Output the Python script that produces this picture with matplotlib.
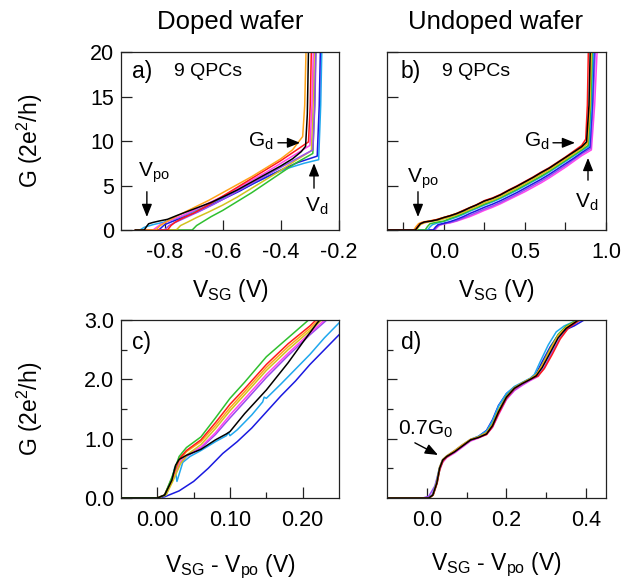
import numpy as np
import matplotlib
matplotlib.use("Agg")
import matplotlib.pyplot as plt
from matplotlib.ticker import MultipleLocator, FixedLocator

plt.rcParams['font.family'] = ['Liberation Sans', 'DejaVu Sans']
plt.rcParams['mathtext.fontset'] = 'custom'
plt.rcParams['mathtext.rm'] = 'Liberation Sans'

colors = {'black': 'black', 'red': '#ff1a1a', 'orange': '#ffa31a', 'yellow': '#d2c21e',
          'green': '#2fc02f', 'cyan': '#1fa8ee', 'blue': '#1a1ae0', 'purple': '#9a4cf0',
          'magenta': '#ff44ee'}

# panel a: doped wafer, G vs V_SG (9 QPCs)
a_black = [(-0.90,0),(-0.87,0),(-0.862,0.4),(-0.855,0.7),(-0.84,0.85),(-0.82,1.0),(-0.79,1.2),(-0.76,1.6),(-0.72,2.1),(-0.68,2.6),(-0.64,3.1),(-0.60,3.7),(-0.55,4.5),(-0.50,5.4),(-0.45,6.3),(-0.40,7.2),(-0.36,8.0),(-0.33,8.8),(-0.315,9.4),(-0.309,13.0),(-0.304,22)]
a_red = [(-0.90,0),(-0.79,0),(-0.778,0.5),(-0.765,0.85),(-0.74,1.3),(-0.70,1.9),(-0.65,2.8),(-0.60,3.8),(-0.55,4.8),(-0.50,5.8),(-0.45,6.8),(-0.40,7.8),(-0.35,8.9),(-0.305,9.9),(-0.299,14.0),(-0.294,22)]
a_orange = [(-0.90,0),(-0.83,0),(-0.815,0.5),(-0.79,1.0),(-0.75,1.7),(-0.70,2.5),(-0.65,3.3),(-0.60,4.2),(-0.55,5.1),(-0.50,6.0),(-0.45,7.0),(-0.40,8.0),(-0.36,9.0),(-0.325,10.5),(-0.318,14.0),(-0.312,22)]
a_yellow = [(-0.90,0),(-0.76,0),(-0.745,0.5),(-0.72,0.9),(-0.69,1.4),(-0.65,2.0),(-0.60,2.8),(-0.55,3.7),(-0.50,4.7),(-0.45,5.7),(-0.40,6.7),(-0.35,7.8),(-0.295,8.9),(-0.289,14.0),(-0.284,22)]
a_green = [(-0.90,0),(-0.705,0),(-0.69,0.5),(-0.67,0.9),(-0.64,1.5),(-0.60,2.2),(-0.55,3.2),(-0.50,4.2),(-0.45,5.3),(-0.40,6.4),(-0.35,7.5),(-0.29,8.6),(-0.284,14.0),(-0.279,22)]
a_cyan = [(-0.90,0),(-0.885,0),(-0.87,0.3),(-0.84,0.6),(-0.80,0.9),(-0.76,1.3),(-0.72,1.8),(-0.67,2.5),(-0.62,3.3),(-0.57,4.1),(-0.52,4.8),(-0.47,5.6),(-0.42,6.4),(-0.37,7.0),(-0.32,7.5),(-0.27,7.9),(-0.263,14.0),(-0.258,22)]
a_blue = [(-0.90,0),(-0.82,0),(-0.80,0.6),(-0.77,1.0),(-0.73,1.5),(-0.69,2.0),(-0.64,2.8),(-0.59,3.6),(-0.54,4.4),(-0.49,5.3),(-0.44,6.1),(-0.39,6.9),(-0.34,7.6),(-0.275,8.3),(-0.268,14.0),(-0.263,22)]
a_purple = [(-0.90,0),(-0.80,0),(-0.785,0.5),(-0.76,0.9),(-0.72,1.5),(-0.68,2.1),(-0.63,2.9),(-0.58,3.8),(-0.53,4.7),(-0.48,5.6),(-0.43,6.5),(-0.38,7.4),(-0.33,8.3),(-0.29,9.0),(-0.283,14.0),(-0.278,22)]
a_magenta = [(-0.90,0),(-0.84,0),(-0.815,0.6),(-0.78,1.1),(-0.74,1.6),(-0.70,2.2),(-0.65,3.0),(-0.60,3.8),(-0.55,4.7),(-0.50,5.6),(-0.45,6.5),(-0.40,7.5),(-0.35,8.5),(-0.30,9.5),(-0.293,14.0),(-0.287,22)]

# panel b: undoped wafer
b_black = [(-0.35,0),(-0.175,0),(-0.16,0.35),(-0.145,0.7),(-0.12,0.9),(-0.08,1.0),(-0.04,1.15),(0.0,1.4),(0.04,1.6),(0.08,1.85),(0.12,2.15),(0.16,2.5),(0.20,2.8),(0.25,3.25),(0.30,3.55),(0.35,3.95),(0.40,4.45),(0.45,4.9),(0.50,5.4),(0.55,5.9),(0.60,6.45),(0.65,6.95),(0.70,7.55),(0.75,8.15),(0.80,8.75),(0.85,9.35),(0.88,9.9),(0.895,14.0),(0.905,22)]
b_red = [(-0.35,0),(-0.175,0),(-0.16,0.4),(-0.145,0.7),(-0.12,0.88),(-0.08,1.02),(-0.04,1.18),(0.0,1.4),(0.04,1.62),(0.08,1.85),(0.12,2.2),(0.16,2.5),(0.20,2.82),(0.25,3.3),(0.30,3.6),(0.35,4.0),(0.40,4.5),(0.45,4.95),(0.50,5.45),(0.55,5.95),(0.60,6.5),(0.65,7.0),(0.70,7.6),(0.75,8.2),(0.80,8.85),(0.85,9.5),(0.875,10.2),(0.885,14.0),(0.893,22)]
b_orange = [(-0.35,0),(-0.185,0),(-0.17,0.4),(-0.155,0.72),(-0.13,0.9),(-0.09,1.02),(-0.05,1.15),(0.0,1.42),(0.04,1.62),(0.08,1.88),(0.12,2.18),(0.16,2.52),(0.20,2.82),(0.25,3.25),(0.30,3.55),(0.35,3.95),(0.40,4.42),(0.45,4.88),(0.50,5.38),(0.55,5.85),(0.60,6.4),(0.65,6.9),(0.70,7.5),(0.75,8.1),(0.80,8.7),(0.85,9.3),(0.885,9.8),(0.9,14.0),(0.91,22)]
b_yellow = [(-0.35,0),(-0.17,0),(-0.155,0.35),(-0.14,0.65),(-0.11,0.85),(-0.07,0.98),(-0.03,1.1),(0.0,1.25),(0.04,1.45),(0.08,1.7),(0.12,2.0),(0.16,2.3),(0.20,2.6),(0.25,3.05),(0.30,3.35),(0.35,3.75),(0.40,4.25),(0.45,4.7),(0.50,5.2),(0.55,5.7),(0.60,6.25),(0.65,6.75),(0.70,7.35),(0.75,7.95),(0.80,8.55),(0.85,9.15),(0.885,9.7),(0.9,14.0),(0.912,22)]
b_green = [(-0.35,0),(-0.115,0),(-0.10,0.4),(-0.085,0.7),(-0.05,0.85),(0.0,1.0),(0.04,1.3),(0.08,1.55),(0.12,1.85),(0.16,2.2),(0.20,2.5),(0.25,2.9),(0.30,3.25),(0.35,3.65),(0.40,4.1),(0.45,4.55),(0.50,5.05),(0.55,5.55),(0.60,6.05),(0.65,6.6),(0.70,7.2),(0.75,7.8),(0.80,8.4),(0.85,9.0),(0.89,9.5),(0.905,14.0),(0.918,22)]
b_cyan = [(-0.35,0),(-0.10,0),(-0.085,0.35),(-0.07,0.6),(-0.04,0.78),(0.0,0.95),(0.04,1.2),(0.08,1.45),(0.12,1.75),(0.16,2.1),(0.20,2.4),(0.25,2.8),(0.30,3.15),(0.35,3.55),(0.40,4.0),(0.45,4.45),(0.50,4.95),(0.55,5.45),(0.60,5.95),(0.65,6.5),(0.70,7.1),(0.75,7.7),(0.80,8.3),(0.85,8.9),(0.895,9.4),(0.91,14.0),(0.925,22)]
b_blue = [(-0.35,0),(-0.065,0),(-0.05,0.35),(-0.035,0.6),(0.0,0.75),(0.04,0.95),(0.08,1.2),(0.12,1.5),(0.16,1.85),(0.20,2.15),(0.25,2.55),(0.30,2.9),(0.35,3.3),(0.40,3.75),(0.45,4.2),(0.50,4.7),(0.55,5.2),(0.60,5.7),(0.65,6.25),(0.70,6.85),(0.75,7.45),(0.80,8.05),(0.85,8.7),(0.90,9.3),(0.915,14.0),(0.93,22)]
b_purple = [(-0.35,0),(-0.06,0),(-0.045,0.3),(-0.03,0.55),(0.0,0.7),(0.04,0.85),(0.08,1.05),(0.12,1.35),(0.16,1.65),(0.20,1.95),(0.25,2.35),(0.30,2.7),(0.35,3.1),(0.40,3.55),(0.45,4.0),(0.50,4.5),(0.55,5.0),(0.60,5.5),(0.65,6.05),(0.70,6.65),(0.75,7.25),(0.80,7.9),(0.85,8.55),(0.905,9.15),(0.92,14.0),(0.938,22)]
b_magenta = [(-0.35,0),(-0.055,0),(-0.04,0.3),(-0.025,0.55),(0.0,0.68),(0.04,0.8),(0.08,1.0),(0.12,1.25),(0.16,1.5),(0.20,1.8),(0.25,2.2),(0.30,2.55),(0.35,2.95),(0.40,3.4),(0.45,3.85),(0.50,4.3),(0.55,4.8),(0.60,5.3),(0.65,5.85),(0.70,6.45),(0.75,7.05),(0.80,7.7),(0.85,8.35),(0.91,9.0),(0.93,14.0),(0.95,22)]

# panel c: doped, G vs V_SG - V_po
c_green = [(-0.05,0),(0.0,0),(0.01,0.05),(0.02,0.35),(0.03,0.7),(0.04,0.85),(0.06,1.03),(0.08,1.35),(0.10,1.68),(0.12,1.95),(0.15,2.38),(0.18,2.7),(0.21,3.02)]
c_red = [(-0.05,0),(0.0,0),(0.01,0.05),(0.02,0.33),(0.03,0.66),(0.04,0.8),(0.06,0.98),(0.08,1.27),(0.10,1.58),(0.12,1.84),(0.15,2.25),(0.18,2.6),(0.21,2.9),(0.22,3.02)]
c_orange = [(-0.05,0),(0.0,0),(0.01,0.05),(0.02,0.3),(0.03,0.63),(0.04,0.78),(0.06,0.95),(0.08,1.22),(0.10,1.52),(0.12,1.79),(0.15,2.2),(0.18,2.55),(0.21,2.86),(0.224,3.02)]
c_yellow = [(-0.05,0),(0.0,0),(0.012,0.05),(0.022,0.3),(0.032,0.58),(0.042,0.74),(0.06,0.9),(0.08,1.17),(0.10,1.47),(0.12,1.74),(0.15,2.15),(0.18,2.5),(0.21,2.82),(0.228,3.02)]
c_magenta = [(-0.05,0),(0.0,0),(0.01,0.05),(0.02,0.3),(0.03,0.6),(0.04,0.72),(0.06,0.86),(0.08,1.1),(0.10,1.4),(0.12,1.67),(0.15,2.08),(0.18,2.44),(0.21,2.78),(0.232,3.02)]
c_purple = [(-0.05,0),(0.0,0),(0.01,0.05),(0.02,0.28),(0.03,0.56),(0.04,0.7),(0.06,0.84),(0.08,1.07),(0.10,1.35),(0.12,1.62),(0.15,2.03),(0.18,2.4),(0.21,2.75),(0.235,3.02)]
c_black = [(-0.05,0),(0.0,0),(0.01,0.05),(0.02,0.3),(0.025,0.55),(0.03,0.65),(0.04,0.72),(0.06,0.82),(0.08,0.98),(0.095,1.08),(0.10,1.12),(0.12,1.42),(0.15,1.82),(0.18,2.28),(0.20,2.62),(0.22,2.95),(0.225,3.02)]
c_cyan = [(-0.05,0),(0.0,0),(0.012,0.05),(0.02,0.3),(0.024,0.52),(0.027,0.28),(0.03,0.4),(0.035,0.6),(0.045,0.7),(0.06,0.8),(0.08,0.95),(0.095,1.05),(0.098,1.1),(0.10,1.05),(0.11,1.15),(0.13,1.4),(0.145,1.62),(0.147,1.7),(0.15,1.68),(0.17,1.92),(0.19,2.17),(0.21,2.42),(0.23,2.7),(0.25,2.95)]
c_blue = [(-0.05,0),(0.0,0),(0.01,0.02),(0.03,0.12),(0.05,0.28),(0.07,0.5),(0.09,0.75),(0.11,0.95),(0.13,1.18),(0.15,1.45),(0.17,1.72),(0.19,1.97),(0.21,2.25),(0.23,2.5),(0.25,2.75)]

# panel d: undoped, G vs V_SG - V_po
d_black = [(-0.1,0),(0.005,0),(0.015,0.05),(0.025,0.25),(0.032,0.5),(0.04,0.64),(0.05,0.7),(0.07,0.78),(0.09,0.88),(0.11,0.98),(0.13,1.02),(0.15,1.08),(0.165,1.22),(0.18,1.45),(0.20,1.7),(0.22,1.85),(0.24,1.93),(0.26,2.0),(0.275,2.06),(0.29,2.2),(0.31,2.45),(0.33,2.7),(0.35,2.86),(0.37,2.95),(0.385,3.02)]
d_red = [(-0.1,0),(0.006,0),(0.016,0.05),(0.026,0.25),(0.033,0.5),(0.041,0.63),(0.05,0.69),(0.07,0.78),(0.09,0.88),(0.11,0.98),(0.13,1.02),(0.15,1.07),(0.165,1.2),(0.18,1.42),(0.20,1.68),(0.22,1.84),(0.24,1.93),(0.26,2.0),(0.28,2.06),(0.295,2.18),(0.315,2.42),(0.335,2.68),(0.355,2.86),(0.375,2.96),(0.39,3.02)]
d_orange = [(-0.1,0),(0.005,0),(0.015,0.05),(0.025,0.27),(0.032,0.52),(0.04,0.65),(0.05,0.71),(0.07,0.8),(0.09,0.9),(0.11,0.99),(0.13,1.03),(0.15,1.1),(0.165,1.24),(0.18,1.47),(0.20,1.71),(0.22,1.86),(0.24,1.94),(0.26,2.01),(0.275,2.08),(0.29,2.24),(0.31,2.5),(0.33,2.74),(0.35,2.88),(0.37,2.96),(0.39,3.02)]
d_green = [(-0.1,0),(0.006,0),(0.016,0.05),(0.026,0.26),(0.033,0.5),(0.041,0.64),(0.05,0.7),(0.07,0.79),(0.09,0.89),(0.11,0.98),(0.13,1.03),(0.15,1.1),(0.165,1.25),(0.18,1.48),(0.20,1.72),(0.22,1.86),(0.24,1.94),(0.26,2.01),(0.275,2.08),(0.29,2.25),(0.31,2.52),(0.33,2.76),(0.35,2.9),(0.37,2.97),(0.38,3.02)]
d_cyan = [(-0.1,0),(0.004,0),(0.014,0.05),(0.024,0.26),(0.031,0.5),(0.039,0.64),(0.05,0.71),(0.07,0.8),(0.09,0.9),(0.11,0.99),(0.13,1.04),(0.15,1.13),(0.165,1.3),(0.18,1.55),(0.20,1.76),(0.22,1.88),(0.24,1.95),(0.26,2.02),(0.27,2.08),(0.285,2.3),(0.305,2.58),(0.325,2.8),(0.345,2.9),(0.365,2.96),(0.38,3.02)]
d_blue = [(-0.1,0),(0.005,0),(0.015,0.05),(0.025,0.25),(0.032,0.5),(0.04,0.64),(0.05,0.7),(0.07,0.79),(0.09,0.89),(0.11,0.98),(0.13,1.04),(0.15,1.14),(0.165,1.32),(0.18,1.56),(0.20,1.76),(0.22,1.87),(0.24,1.94),(0.26,2.01),(0.275,2.1),(0.29,2.3),(0.31,2.55),(0.33,2.75),(0.35,2.84),(0.37,2.9),(0.39,2.98),(0.40,3.02)]
d_purple = [(-0.1,0),(-0.01,0),(0.005,0.03),(0.02,0.2),(0.03,0.45),(0.04,0.62),(0.05,0.69),(0.07,0.77),(0.09,0.87),(0.11,0.97),(0.13,1.02),(0.15,1.08),(0.165,1.2),(0.18,1.42),(0.20,1.67),(0.22,1.82),(0.24,1.91),(0.26,1.99),(0.28,2.06),(0.295,2.2),(0.315,2.46),(0.335,2.7),(0.355,2.86),(0.375,2.95),(0.39,3.02)]
d_magenta = [(-0.06,0),(-0.03,0),(0.0,0),(0.012,0.04),(0.022,0.2),(0.03,0.42),(0.04,0.6),(0.05,0.68),(0.07,0.76),(0.09,0.86),(0.11,0.96),(0.13,1.01),(0.15,1.07),(0.165,1.19),(0.18,1.4),(0.20,1.66),(0.22,1.81),(0.24,1.9),(0.26,1.98),(0.28,2.05)]

panel_a = [(a_cyan, 'cyan'), (a_blue, 'blue'), (a_green, 'green'), (a_yellow, 'yellow'), (a_purple, 'purple'),
           (a_magenta, 'magenta'), (a_red, 'red'), (a_orange, 'orange'), (a_black, 'black')]
panel_b = [(b_magenta, 'magenta'), (b_purple, 'purple'), (b_blue, 'blue'), (b_cyan, 'cyan'), (b_green, 'green'),
           (b_yellow, 'yellow'), (b_orange, 'orange'), (b_red, 'red'), (b_black, 'black')]
panel_c = [(c_blue, 'blue'), (c_cyan, 'cyan'), (c_purple, 'purple'), (c_magenta, 'magenta'), (c_yellow, 'yellow'),
           (c_orange, 'orange'), (c_red, 'red'), (c_green, 'green'), (c_black, 'black')]
panel_d = [(d_magenta, 'magenta'), (d_purple, 'purple'), (d_blue, 'blue'), (d_cyan, 'cyan'), (d_green, 'green'),
           (d_red, 'red'), (d_orange, 'orange'), (d_black, 'black')]

fig = plt.figure(figsize=(6.41, 5.85), dpi=100)
W, H = 641.0, 585.0

def make_ax(x0, x1, ytop, ybot):
    return fig.add_axes([x0 / W, (H - ybot) / H, (x1 - x0) / W, (ybot - ytop) / H])

ax_a = make_ax(121, 339, 52, 230)
ax_b = make_ax(387, 606, 52, 230)
ax_c = make_ax(121, 339, 320, 498)
ax_d = make_ax(387, 606, 320, 498)

def draw(ax, curves):
    for pts, c in curves:
        v = [p[0] for p in pts]
        g = [p[1] for p in pts]
        ax.plot(v, g, color=colors[c], lw=1.1, solid_joinstyle='round')

draw(ax_a, panel_a)
draw(ax_b, panel_b)
draw(ax_c, panel_c)
draw(ax_d, panel_d)

for ax in [ax_a, ax_b, ax_c, ax_d]:
    for s in ax.spines.values():
        s.set_linewidth(0.9)
        s.set_color('#222222')
    ax.tick_params(which='both', direction='in', top=False, right=False, width=0.9, color='#222222',
                   labelsize=15.5)
    ax.tick_params(axis='x', pad=9)
    ax.tick_params(axis='y', pad=5)

# a
ax_a.set_xlim(-0.95, -0.2)
ax_a.set_ylim(0, 20)
ax_a.xaxis.set_major_locator(FixedLocator([-0.8, -0.6, -0.4, -0.2]))
ax_a.set_xticklabels(['-0.8', '-0.6', '-0.4', '-0.2'])
ax_a.yaxis.set_major_locator(MultipleLocator(5))
ax_a.tick_params(axis='x', length=7)
ax_a.tick_params(axis='y', length=8)

# b
ax_b.set_xlim(-0.35, 1.0)
ax_b.set_ylim(0, 20)
ax_b.xaxis.set_major_locator(FixedLocator([0.0, 0.5, 1.0]))
ax_b.xaxis.set_minor_locator(FixedLocator([-0.25, 0.25, 0.75]))
ax_b.set_xticklabels(['0.0', '0.5', '1.0'])
ax_b.yaxis.set_major_locator(MultipleLocator(5))
ax_b.set_yticklabels([])
ax_b.tick_params(axis='x', which='both', length=6)
ax_b.tick_params(axis='y', length=8)

# c
ax_c.set_xlim(-0.05, 0.25)
ax_c.set_ylim(0, 3)
ax_c.xaxis.set_major_locator(FixedLocator([0.0, 0.1, 0.2]))
ax_c.xaxis.set_minor_locator(FixedLocator([0.05, 0.15]))
ax_c.set_xticklabels(['0.00', '0.10', '0.20'])
ax_c.yaxis.set_major_locator(FixedLocator([0, 1, 2, 3]))
ax_c.yaxis.set_minor_locator(FixedLocator([0.5, 1.5, 2.5]))
ax_c.set_yticklabels(['0.0', '1.0', '2.0', '3.0'])
ax_c.tick_params(which='major', length=8)
ax_c.tick_params(which='minor', length=4.5)

# d
ax_d.set_xlim(-0.1, 0.45)
ax_d.set_ylim(0, 3)
ax_d.xaxis.set_major_locator(FixedLocator([0.0, 0.2, 0.4]))
ax_d.xaxis.set_minor_locator(FixedLocator([0.1, 0.3]))
ax_d.set_xticklabels(['0.0', '0.2', '0.4'])
ax_d.yaxis.set_major_locator(FixedLocator([1, 2]))
ax_d.yaxis.set_minor_locator(FixedLocator([0.5, 1.5, 2.5]))
ax_d.set_yticklabels([])
ax_d.tick_params(which='major', length=7.5)
ax_d.tick_params(which='minor', length=4.5)

# panel labels
ax_a.text(0.05, 0.89, 'a)', transform=ax_a.transAxes, fontsize=16.5, va='center')
ax_a.text(0.245, 0.89, '9 QPCs', transform=ax_a.transAxes, fontsize=14, va='center')
ax_b.text(0.062, 0.89, 'b)', transform=ax_b.transAxes, fontsize=16.5, va='center')
ax_b.text(0.252, 0.89, '9 QPCs', transform=ax_b.transAxes, fontsize=14, va='center')
ax_c.text(0.05, 0.876, 'c)', transform=ax_c.transAxes, fontsize=16.5, va='center')
ax_d.text(0.062, 0.876, 'd)', transform=ax_d.transAxes, fontsize=16.5, va='center')

arrow = dict(arrowstyle='-|>,head_length=0.55,head_width=0.22', color='black', lw=1.0,
             shrinkA=0, shrinkB=0, mutation_scale=14)

# annotations a
ax_a.text(-0.836, 6.4, r'$\mathregular{V_{po}}$', fontsize=15, ha='center', va='center')
ax_a.annotate('', xy=(-0.861, 1.46), xytext=(-0.861, 4.3), arrowprops=arrow)
ax_a.text(-0.47, 10.0, r'$\mathregular{G_d}$', fontsize=15, ha='center', va='center')
ax_a.annotate('', xy=(-0.334, 9.8), xytext=(-0.41, 9.8), arrowprops=arrow)
ax_a.text(-0.276, 2.7, r'$\mathregular{V_d}$', fontsize=15, ha='center', va='center')
ax_a.annotate('', xy=(-0.286, 7.5), xytext=(-0.286, 4.7), arrowprops=arrow)

# annotations b
ax_b.text(-0.128, 5.8, r'$\mathregular{V_{po}}$', fontsize=15, ha='center', va='center')
ax_b.annotate('', xy=(-0.159, 1.46), xytext=(-0.159, 4.3), arrowprops=arrow)
ax_b.text(0.575, 10.0, r'$\mathregular{G_d}$', fontsize=15, ha='center', va='center')
ax_b.annotate('', xy=(0.809, 9.8), xytext=(0.673, 9.8), arrowprops=arrow)
ax_b.text(0.88, 3.1, r'$\mathregular{V_d}$', fontsize=15, ha='center', va='center')
ax_b.annotate('', xy=(0.889, 8.1), xytext=(0.889, 5.6), arrowprops=arrow)

# annotation d
ax_d.text(-0.002, 1.15, r'$\mathregular{0.7G_0}$', fontsize=15, ha='center', va='center')
ax_d.annotate('', xy=(0.028, 0.725), xytext=(-0.03, 0.93), arrowprops=arrow)

# titles and axis labels
fig.text(230 / W, 1 - 22 / H, 'Doped wafer', fontsize=18.5, ha='center', va='center')
fig.text(496 / W, 1 - 22 / H, 'Undoped wafer', fontsize=18.5, ha='center', va='center')
fig.text(230 / W, 1 - 297 / H, r'$\mathregular{V_{SG}}$ (V)', fontsize=16.5, ha='center', va='baseline')
fig.text(496 / W, 1 - 297 / H, r'$\mathregular{V_{SG}}$ (V)', fontsize=16.5, ha='center', va='baseline')
fig.text(230 / W, 1 - 572 / H, r'$\mathregular{V_{SG}}$ - $\mathregular{V_{po}}$ (V)', fontsize=16.5,
         ha='center', va='baseline')
fig.text(496 / W, 1 - 570 / H, r'$\mathregular{V_{SG}}$ - $\mathregular{V_{po}}$ (V)', fontsize=16.5,
         ha='center', va='baseline')
fig.text(30 / W, 1 - 141 / H, r'G (2e$\mathregular{^2}$/h)', fontsize=16.5, rotation=90, ha='center', va='center')
fig.text(30 / W, 1 - 409 / H, r'G (2e$\mathregular{^2}$/h)', fontsize=16.5, rotation=90, ha='center', va='center')

fig.savefig('out.png', dpi=100)
